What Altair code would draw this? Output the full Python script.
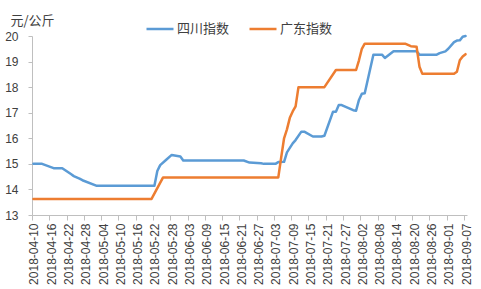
import altair as alt
import pandas as pd

# ---- data ----
series_names = ["四川指数", "广东指数"]
series_colors = ["#5B9BD5", "#ED7D31"]

sichuan_dates = [
    "2018-04-10", "2018-04-13", "2018-04-17", "2018-04-20", "2018-04-23", "2018-04-24",
    "2018-04-26", "2018-04-27", "2018-05-02", "2018-05-22", "2018-05-23", "2018-05-24",
    "2018-05-26", "2018-05-28", "2018-05-30", "2018-05-31", "2018-06-01", "2018-06-22",
    "2018-06-24", "2018-06-28", "2018-06-29", "2018-07-03", "2018-07-04", "2018-07-06",
    "2018-07-07", "2018-07-09", "2018-07-10", "2018-07-12", "2018-07-13", "2018-07-16",
    "2018-07-19", "2018-07-20", "2018-07-23", "2018-07-24", "2018-07-25", "2018-07-26",
    "2018-07-30", "2018-07-31", "2018-08-01", "2018-08-02", "2018-08-03", "2018-08-06",
    "2018-08-09", "2018-08-10", "2018-08-13", "2018-08-21", "2018-08-22", "2018-08-28",
    "2018-08-29", "2018-08-31", "2018-09-01", "2018-09-03", "2018-09-04", "2018-09-05",
    "2018-09-06", "2018-09-07",
]
sichuan_values = [
    15.00, 15.00, 14.83, 14.83, 14.60, 14.52,
    14.42, 14.36, 14.14, 14.14, 14.72, 14.95,
    15.15, 15.35, 15.31, 15.29, 15.13, 15.13,
    15.05, 15.02, 15.00, 15.00, 15.07, 15.08,
    15.45, 15.80, 15.93, 16.26, 16.26, 16.07,
    16.07, 16.10, 17.04, 17.04, 17.30, 17.30,
    17.10, 17.08, 17.50, 17.74, 17.76, 19.27,
    19.27, 19.14, 19.40, 19.40, 19.27, 19.27,
    19.33, 19.40, 19.50, 19.76, 19.82, 19.83,
    19.97, 20.00,
]

guangdong_dates = [
    "2018-04-10", "2018-05-21", "2018-05-25", "2018-07-04", "2018-07-05", "2018-07-06",
    "2018-07-07", "2018-07-08", "2018-07-09", "2018-07-10", "2018-07-11", "2018-07-20",
    "2018-07-24", "2018-07-31", "2018-08-01", "2018-08-02", "2018-08-03", "2018-08-17",
    "2018-08-19", "2018-08-21", "2018-08-22", "2018-08-23", "2018-09-03", "2018-09-04",
    "2018-09-05", "2018-09-06", "2018-09-07",
]
guangdong_values = [
    13.63, 13.63, 14.47, 14.47, 15.25, 16.00,
    16.35, 16.80, 17.05, 17.25, 18.00, 18.00,
    18.67, 18.67, 19.05, 19.50, 19.70, 19.70,
    19.60, 19.58, 18.80, 18.52, 18.52, 18.60,
    19.05, 19.20, 19.29,
]

tick_dates = [
    "2018-04-10", "2018-04-16", "2018-04-22", "2018-04-28", "2018-05-04", "2018-05-10",
    "2018-05-16", "2018-05-22", "2018-05-28", "2018-06-03", "2018-06-09", "2018-06-15",
    "2018-06-21", "2018-06-27", "2018-07-03", "2018-07-09", "2018-07-15", "2018-07-21",
    "2018-07-27", "2018-08-02", "2018-08-08", "2018-08-14", "2018-08-20", "2018-08-26",
    "2018-09-01", "2018-09-07",
]
y_ticks = [13, 14, 15, 16, 17, 18, 19, 20]


def ms(d):
    return int(pd.Timestamp(d, tz="UTC").value // 10**6)


rows = []
for d, v in zip(sichuan_dates, sichuan_values):
    rows.append({"date": d, "value": v, "series": series_names[0]})
for d, v in zip(guangdong_dates, guangdong_values):
    rows.append({"date": d, "value": v, "series": series_names[1]})
df = pd.DataFrame(rows)

LABEL_FONT = "Liberation Sans"
CJK_FONT = "Noto Sans CJK SC"
TEXT_COLOR = "#404040"
AXIS_COLOR = "#BFBFBF"

chart = (
    alt.Chart(df)
    .mark_line(strokeWidth=2.5, strokeJoin="round", strokeCap="round")
    .encode(
        x=alt.X(
            "date:T",
            scale=alt.Scale(
                type="utc",
                domain=[ms("2018-04-09T12:00:00"), ms("2018-09-07T12:00:00")],
                nice=False,
            ),
            axis=alt.Axis(
                values=[ms(d) for d in tick_dates],
                labelExpr="utcFormat(datum.value, '%Y-%m-%d')",
                labelAngle=270,
                labelAlign="right",
                labelBaseline="middle",
                labelFont=LABEL_FONT,
                labelFontSize=12,
                labelColor=TEXT_COLOR,
                labelPadding=3,
                labelOverlap=False,
                labelFlush=False,
                tickOffset=-1.5,
                labelOffset=2,
                tickSize=5,
                tickColor=AXIS_COLOR,
                domainColor=AXIS_COLOR,
                grid=False,
                title=None,
            ),
        ),
        y=alt.Y(
            "value:Q",
            scale=alt.Scale(domain=[13, 20], nice=False, zero=False),
            axis=alt.Axis(
                values=y_ticks,
                labelFont=LABEL_FONT,
                labelFontSize=12,
                labelColor=TEXT_COLOR,
                labelPadding=10,
                tickSize=4,
                tickColor=AXIS_COLOR,
                domainColor=AXIS_COLOR,
                grid=False,
                title="元/公斤",
                titleAngle=0,
                titleX=-22,
                titleY=-16,
                titleAlign="left",
                titleBaseline="middle",
                titleFont=CJK_FONT,
                titleFontSize=13,
                titleFontWeight="normal",
                titleColor=TEXT_COLOR,
            ),
        ),
        color=alt.Color(
            "series:N",
            scale=alt.Scale(domain=series_names, range=series_colors),
            legend=alt.Legend(
                orient="none",
                direction="horizontal",
                legendX=113,
                legendY=-22,
                title=None,
                symbolType="stroke",
                symbolSize=729,
                symbolStrokeWidth=2.5,
                labelFont=CJK_FONT,
                labelFontSize=13,
                labelColor=TEXT_COLOR,
                labelOffset=2,
                columnPadding=14,
            ),
        ),
        order=alt.Order("date:T"),
    )
    .properties(
        width=435,
        height=179,
        padding={"left": 32, "top": 36, "right": 14, "bottom": 74},
        autosize=alt.AutoSizeParams(type="none"),
    )
    .configure_view(stroke=None)
)

chart.save("out.html", embed_options={"renderer": "svg", "actions": False})
